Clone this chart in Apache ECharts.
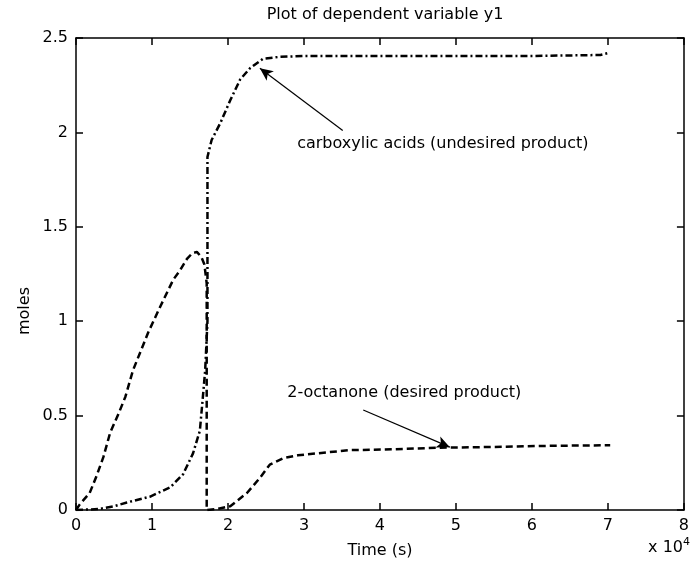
<!DOCTYPE html>
<html>
<head>
    <meta charset="utf-8">
    <title>Plot of dependent variable y1</title>
    <script src="https://cdn.jsdelivr.net/npm/echarts@6/dist/echarts.min.js"></script>
</head>
<body style="margin:0">
    <div id="main" style="width: 692px;height:568px;"></div>
    <script type="text/javascript">
        // 2-octanone (dashed): [time s, moles]
        var octanone = [
            [0, 0], [500, 0.03], [1800, 0.09], [2700, 0.18], [3600, 0.28], [4500, 0.41],
            [5600, 0.51], [6500, 0.6], [7500, 0.74], [9500, 0.94], [11000, 1.07],
            [12800, 1.22], [13700, 1.27], [14600, 1.33], [15300, 1.36], [15900, 1.367],
            [16500, 1.34], [16900, 1.3], [17200, 1.2], [17200, 0], [18500, 0.005],
            [20300, 0.02], [22500, 0.09], [24200, 0.17], [25500, 0.24], [27300, 0.275],
            [29200, 0.29], [31700, 0.30], [36000, 0.317], [40400, 0.32], [47900, 0.33],
            [53600, 0.333], [62400, 0.34], [70300, 0.343]
        ];
        // carboxylic acids (dash-dot)
        var acids = [
            [0, 0], [3000, 0.005], [5000, 0.02], [6700, 0.04], [9700, 0.07], [12400, 0.12],
            [14100, 0.19], [15400, 0.3], [16300, 0.42], [16700, 0.6], [17000, 0.74],
            [17300, 1.0], [17300, 1.87], [17850, 1.96], [19000, 2.05], [20300, 2.17],
            [21600, 2.28], [22900, 2.34], [24600, 2.39], [26800, 2.40], [30000, 2.405],
            [40000, 2.405], [50000, 2.405], [60000, 2.405], [69000, 2.41], [70000, 2.42]
        ];
        var xTicks = [0, 10000, 20000, 30000, 40000, 50000, 60000, 70000, 80000];
        var yTicks = [0, 0.5, 1, 1.5, 2, 2.5];

        // annotations: label anchor, arrow start, arrow end
        var acidNote = { text: 'carboxylic acids (undesired product)', at: [29100, 1.94], from: [35100, 2.01], to: [24200, 2.34] };
        var ketoneNote = { text: '2-octanone (desired product)', at: [27800, 0.62], from: [37800, 0.53], to: [49200, 0.333] };

        var chartDom = document.getElementById('main');
        var myChart = echarts.init(chartDom);
        var font = 'DejaVu Sans';
        var fs = 16;

        function note(n) {
            return {
                markLine: {
                    silent: true,
                    symbol: ['none', 'arrow'],
                    symbolSize: [9, 13],
                    label: { show: false },
                    lineStyle: { color: '#000', width: 1.2, type: 'solid' },
                    data: [[{ coord: n.from }, { coord: n.to }]]
                },
                markPoint: {
                    silent: true,
                    symbol: 'circle',
                    symbolSize: 0,
                    label: {
                        show: true, position: 'right', distance: 0, formatter: n.text,
                        color: '#000', fontFamily: font, fontSize: fs
                    },
                    data: [{ coord: n.at }]
                }
            };
        }

        var axisCommon = {
            axisLine: { show: true, onZero: false, lineStyle: { color: '#000', width: 1.5 } },
            axisTick: { show: true, inside: true, length: 7, lineStyle: { color: '#000', width: 1.5 } },
            splitLine: { show: false }
        };

        var s1 = Object.assign({
            type: 'line', name: 'octanone', data: octanone, showSymbol: false,
            lineStyle: { color: '#000', width: 2.5, type: [7, 4] }
        }, note(ketoneNote));
        var s2 = Object.assign({
            type: 'line', name: 'acids', data: acids, showSymbol: false,
            lineStyle: { color: '#000', width: 2.5, type: [7, 3, 2, 3] }
        }, note(acidNote));

        var option = {
            animation: false,
            backgroundColor: '#fff',
            title: {
                text: 'Plot of dependent variable y1', left: 380, textAlign: 'center', top: 2,
                textStyle: { fontFamily: font, fontSize: fs, fontWeight: 'normal', color: '#000' }
            },
            grid: { left: 76, right: 8, top: 38, bottom: 58 },
            xAxis: [Object.assign({
                type: 'value', min: xTicks[0], max: xTicks[xTicks.length - 1], interval: 10000,
                name: 'Time (s)', nameLocation: 'middle', nameGap: 33,
                nameTextStyle: { fontFamily: font, fontSize: fs, color: '#000' },
                axisLabel: { fontFamily: font, fontSize: fs, color: '#000', margin: 8,
                    formatter: function (v) { return v / 10000; } }
            }, axisCommon), Object.assign({
                type: 'value', position: 'top', min: xTicks[0], max: xTicks[xTicks.length - 1], interval: 10000,
                axisLabel: { show: false }
            }, axisCommon)],
            yAxis: [Object.assign({
                type: 'value', min: yTicks[0], max: yTicks[yTicks.length - 1], interval: 0.5,
                axisLabel: { fontFamily: font, fontSize: fs, color: '#000', margin: 8 }
            }, axisCommon), Object.assign({
                type: 'value', position: 'right', min: yTicks[0], max: yTicks[yTicks.length - 1], interval: 0.5,
                axisLabel: { show: false }
            }, axisCommon)],
            graphic: [{
                type: 'text', left: 17, top: 287, rotation: Math.PI / 2,
                style: { text: 'moles', fill: '#000', font: fs + 'px ' + font, align: 'center', verticalAlign: 'middle' }
            }, {
                type: 'text', right: 2, top: 537,
                style: {
                    text: 'x 10{s|4}', fill: '#000', font: fs + 'px ' + font,
                    rich: { s: { fontSize: 11, fontFamily: font, verticalAlign: 'top', padding: [0, 0, 10, 0] } }
                }
            }],
            series: [s1, s2]
        };

        myChart.setOption(option);
    </script>
</body>
</html>
